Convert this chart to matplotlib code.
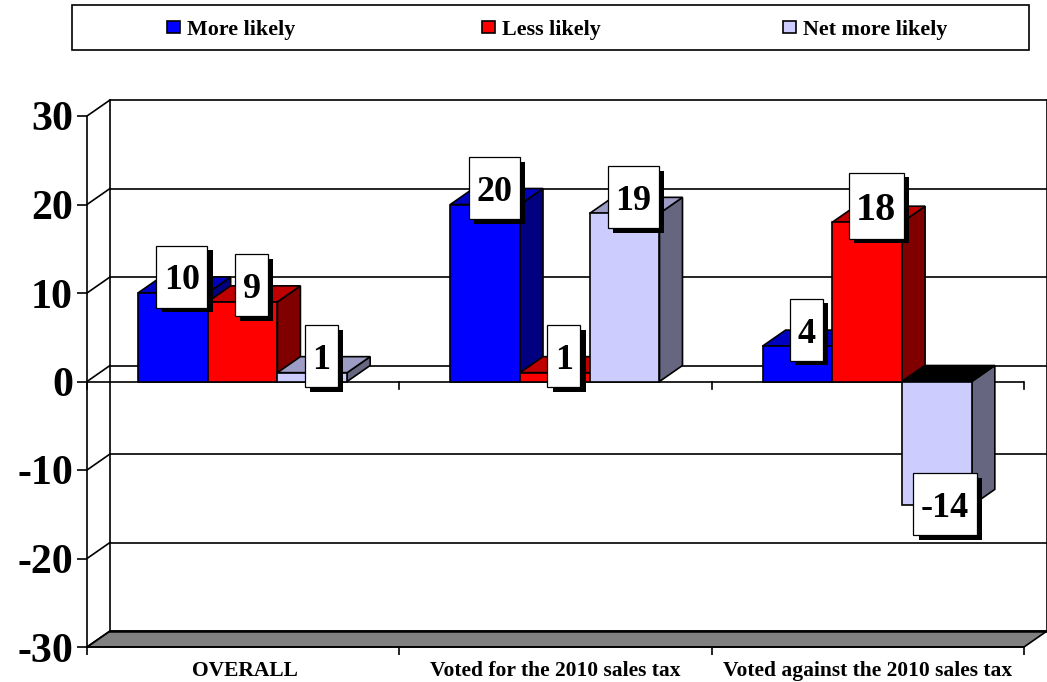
import matplotlib
matplotlib.use("Agg")
import matplotlib.pyplot as plt
from matplotlib.patches import Polygon, Rectangle
from matplotlib.transforms import IdentityTransform

plt.rcParams['font.family'] = ['Liberation Serif', 'DejaVu Serif']
plt.rcParams['font.weight'] = 'bold'

categories = ["OVERALL", "Voted for the 2010 sales tax", "Voted against the 2010 sales tax"]
series_names = ["More likely", "Less likely", "Net more likely"]
more_likely = [10, 20, 4]
less_likely = [9, 1, 18]
net_likely = [1, 19, -14]
y_ticks = [-30, -20, -10, 0, 10, 20, 30]

front = ["#0000FF", "#FF0000", "#CCCCFF"]
top = ["#0000C0", "#C00000", "#9C9CC4"]
side = ["#000080", "#800000", "#666680"]

W, H = 1047, 682
DPI = 100
PX = 72 / DPI  # one pixel in points

fig = plt.figure(figsize=(W / DPI, H / DPI), dpi=DPI)
ax = fig.add_axes([87 / W, (H - 647) / H, 937 / W, 531 / H])
ax.set_xlim(0, 3)
ax.set_ylim(-30, 30)
ax.patch.set_visible(False)

# depth of the fake 3d box, in data units
dx = 23 / (937 / 3)
dy = 16 / (531 / 60)
bar_w = 0.2233
lw = 1.2

# floor
ax.add_patch(Polygon([(0, -30), (3, -30), (3 + dx, -30 + dy), (dx, -30 + dy)],
                     closed=True, fc="#808080", ec="black", lw=lw, clip_on=False, zorder=1))
ax.plot([dx, 3 + dx], [-30 + dy, -30 + dy], color="black", lw=1.8, clip_on=False, zorder=1.5)

# back wall and side wall
for v in y_ticks[1:]:
    ax.plot([dx, 3 + dx], [v + dy, v + dy], color="black", lw=lw, clip_on=False, zorder=1)
for v in y_ticks:
    ax.plot([0, dx], [v, v + dy], color="black", lw=lw, clip_on=False, zorder=1)
ax.plot([dx, dx], [-30 + dy, 30 + dy], color="black", lw=lw, clip_on=False, zorder=1)
ax.plot([3 + dx - 0.001, 3 + dx - 0.001], [-30 + dy, 30 + dy], color="black", lw=lw, clip_on=False, zorder=1)

# zero line with its ticks
ax.axhline(0, color="black", lw=lw, zorder=1.5)
for x in range(4):
    ax.plot([x, x], [0, -0.9], color="black", lw=lw, clip_on=False, zorder=1.5)

for s in ["top", "right"]:
    ax.spines[s].set_visible(False)
for s in ["left", "bottom"]:
    ax.spines[s].set_linewidth(lw)

ax.set_yticks(y_ticks)
ax.set_yticklabels([str(v) for v in y_ticks], fontsize=42 * PX)
ax.tick_params(axis="y", length=10 * PX, width=lw, pad=4 * PX)
ax.set_xticks([0, 1, 2, 3])
ax.set_xticklabels([])
ax.tick_params(axis="x", which="major", length=8 * PX, width=lw)
ax.set_xticks([0.505, 1.5, 2.5], minor=True)
ax.set_xticklabels(categories, minor=True, fontsize=21.5 * PX)
ax.tick_params(axis="x", which="minor", length=0, pad=14 * PX)

# bars, left to right so later ones sit over earlier ones
z = 2
bar_spots = []
for i in range(3):
    for j, vals in enumerate([more_likely, less_likely, net_likely]):
        v = vals[i]
        x0 = i + 0.498 + (j - 1.5) * bar_w
        x1 = x0 + bar_w
        hi = max(v, 0)
        lo = min(v, 0)
        top_color = "black" if v < 0 else top[j]
        ax.add_patch(Polygon([(x1, lo), (x1 + dx, lo + dy), (x1 + dx, hi + dy), (x1, hi)],
                             closed=True, fc=side[j], ec="black", lw=lw, zorder=z))
        ax.add_patch(Polygon([(x0, hi), (x0 + dx, hi + dy), (x1 + dx, hi + dy), (x1, hi)],
                             closed=True, fc=top_color, ec="black", lw=lw, zorder=z))
        ax.bar(x0, v, width=bar_w, align="edge", color=front[j], edgecolor="black", linewidth=lw, zorder=z)
        z += 0.01
        bar_spots.append((x0 + bar_w / 2, v))

# value labels with drop shadow
fig.canvas.draw()
renderer = fig.canvas.get_renderer()
for x, v in bar_spots:
    font_px = 40 if v == 18 else 36
    box_h = 66 if v == 18 else 62
    off_x = 9 if v > 0 else 8
    off_y = 16.5 if v > 0 else 1.5
    base_y = off_y - 0.36 * font_px
    t = ax.annotate(str(v), (x, v), xytext=(off_x * PX, base_y * PX), textcoords="offset points",
                    ha="center", va="baseline", fontsize=font_px * PX, color="black", zorder=6)
    box_w = t.get_window_extent(renderer).width + 15
    cx, cy = ax.transData.transform((x, v))
    cx += off_x
    cy += off_y
    ax.add_patch(Rectangle((cx - box_w / 2 + 5.3, cy - box_h / 2 - 4.7), box_w, box_h, fc="black", ec="none",
                           transform=IdentityTransform(), clip_on=False, zorder=5))
    ax.add_patch(Rectangle((cx - box_w / 2, cy - box_h / 2), box_w, box_h, fc="white", ec="black", lw=0.9,
                           transform=IdentityTransform(), clip_on=False, zorder=5.5))

# legend strip across the top
fig.add_artist(Rectangle((72 / W, 1 - 50 / H), 957 / W, 45 / H, fc="white", ec="black", lw=1.2,
                         transform=fig.transFigure))
legend_x = [167, 482, 783]
for name, color, lx in zip(series_names, front, legend_x):
    fig.add_artist(Rectangle((lx / W, 1 - 33 / H), 13 / W, 12.5 / H, fc=color, ec="black", lw=1.2,
                             transform=fig.transFigure))
    fig.text((lx + 20) / W, 1 - 28 / H, name, fontsize=22 * PX, ha="left", va="center_baseline")

plt.savefig("out.png", dpi=DPI)
